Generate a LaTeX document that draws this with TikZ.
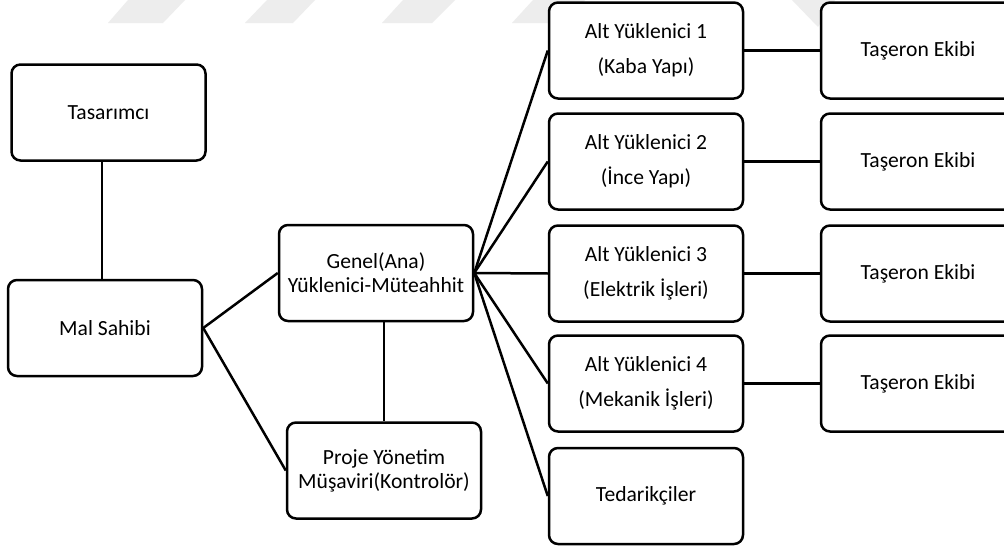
\documentclass[tikz,border=0pt]{standalone}
\usepackage{fontspec}
\setmainfont{Carlito}
\definecolor{wm}{HTML}{EDEDED}
\begin{document}
\begin{tikzpicture}[x=1pt,y=-1pt,
  box/.style={draw, line width=2.5pt, rounded corners=9pt, fill=white,
    minimum width=194pt, minimum height=96pt, inner sep=0pt, align=center,
    font=\fontsize{21.6}{24}\selectfont},
  link/.style={line width=2.5pt},
  mark stripe/.style={fill=wm, draw=none}]
\clip (0,0) rectangle (1004,546);
\fill[white] (0,0) rectangle (1004,546);

% faint background stripes along the top edge
\fill[mark stripe] (128,0) -- (185,0) -- (163,23) -- (108,23) -- cycle;
\fill[mark stripe] (267,0) -- (315,0) -- (293,23) -- (245,23) -- cycle;
\fill[mark stripe] (403,0) -- (455,0) -- (432,23) -- (382,23) -- cycle;
\fill[mark stripe] (533,0) -- (585,0) -- (562,23) -- (512,23) -- cycle;
\fill[mark stripe] (792,0) -- (835,0) -- (818,27) -- cycle;

% owner side
\node[box] (tas) at (108.5,112.5) {Tasarımcı};
\node[box] (mal) at (105,328) {Mal Sahibi};
\node[box] (gen) at (376,273) {Genel(Ana)\\Yüklenici-Müteahhit};
\node[box] (pro) at (384,470.5) {Proje Yönetim\\Müşaviri(Kontrolör)};

% subcontractors
\node[box] (a1) at (646,50.5) {Alt Yüklenici 1\\[11pt](Kaba Yapı)};
\node[box] (a2) at (646,161.5) {Alt Yüklenici 2\\[11pt](İnce Yapı)};
\node[box] (a3) at (646,273.5) {Alt Yüklenici 3\\[11pt](Elektrik İşleri)};
\node[box] (a4) at (646,383.5) {Alt Yüklenici 4\\[11pt](Mekanik İşleri)};
\node[box] (ted) at (646,496) {Tedarikçiler};

% crews
\node[box] (t1) at (918,50.5) {Taşeron Ekibi};
\node[box] (t2) at (918,161.5) {Taşeron Ekibi};
\node[box] (t3) at (918,273.5) {Taşeron Ekibi};
\node[box] (t4) at (918,383.5) {Taşeron Ekibi};

% connectors
\coordinate (tm) at (102,0);
\draw[link] (tas.south -| tm) -- (mal.north -| tm);
\draw[link] (mal.east) -- (gen.west);
\draw[link] (mal.east) -- (pro.west);
\draw[link] (pro.north |- gen.south) -- (pro.north);
\foreach \n in {a1,a2,a3,a4,ted}
  \draw[link] (gen.east) -- (\n.west);
\foreach \a/\t in {a1/t1,a2/t2,a3/t3,a4/t4}
  \draw[link] (\a.east) -- (\t.west);
\end{tikzpicture}
\end{document}
